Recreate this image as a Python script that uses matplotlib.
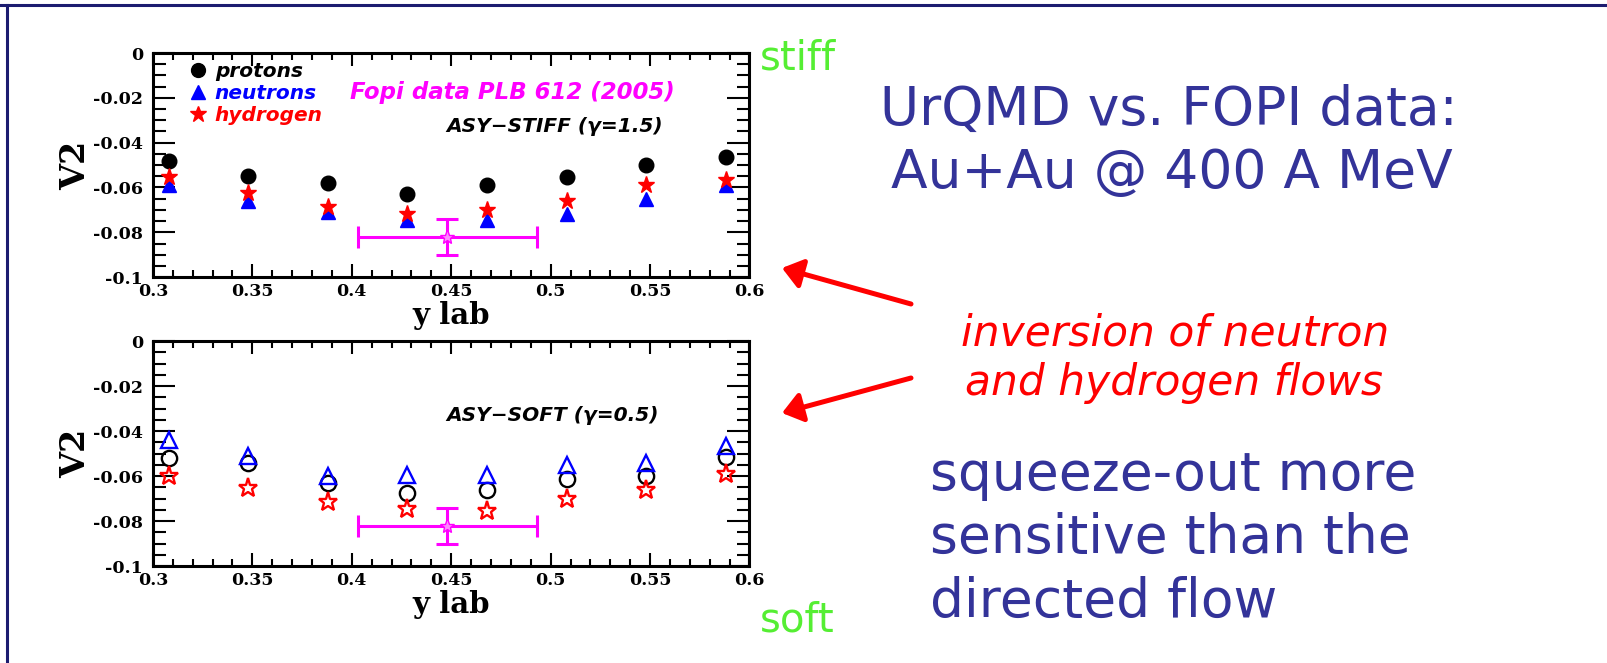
"""
UrQMD vs FOPI elliptic flow (V2) slide: stiff and soft asymmetry terms.
"""
import matplotlib
matplotlib.use('Agg')
import matplotlib.pyplot as plt
from matplotlib.lines import Line2D
from matplotlib.patches import FancyArrowPatch

plt.rcParams['axes.unicode_minus'] = False

# rapidity bins
y_lab = [0.308, 0.348, 0.388, 0.428, 0.468, 0.508, 0.548, 0.588]

# ASY-STIFF (gamma=1.5)
stiff_protons = [-0.048, -0.055, -0.058, -0.063, -0.059, -0.0555, -0.050, -0.0465]
stiff_neutrons = [-0.059, -0.066, -0.071, -0.0745, -0.0745, -0.072, -0.065, -0.059]
stiff_hydrogen = [-0.0555, -0.0625, -0.0685, -0.072, -0.070, -0.066, -0.059, -0.0565]

# ASY-SOFT (gamma=0.5)
soft_protons = [-0.052, -0.054, -0.063, -0.0675, -0.066, -0.0615, -0.060, -0.0515]
soft_neutrons = [-0.044, -0.051, -0.060, -0.0595, -0.0595, -0.055, -0.054, -0.0465]
soft_hydrogen = [-0.060, -0.0655, -0.0715, -0.0745, -0.0755, -0.070, -0.066, -0.059]

# FOPI data point (PLB 612, 2005)
fopi_y = [0.448]
fopi_v2 = [-0.082]
fopi_xerr = [0.045]
fopi_yerr = [0.008]

x_ticks = [0.3, 0.35, 0.4, 0.45, 0.5, 0.55, 0.6]
x_ticklabels = ['0.3', '0.35', '0.4', '0.45', '0.5', '0.55', '0.6']
y_ticks = [0, -0.02, -0.04, -0.06, -0.08, -0.1]
y_ticklabels = ['0', '-0.02', '-0.04', '-0.06', '-0.08', '-0.1']

W, H = 1608, 663
NAVY = '#333399'
GREEN = '#55ee33'
SERIF = 'DejaVu Serif'
SANS = 'DejaVu Sans'


def px(x, y):
    """pixel position (from top-left) -> figure fraction"""
    return x / W, 1 - y / H


def style_axes(ax):
    ax.set_xlim(0.3, 0.6)
    ax.set_ylim(-0.1, 0)
    ax.set_xticks(x_ticks)
    ax.set_xticklabels(x_ticklabels)
    ax.set_yticks(y_ticks)
    ax.set_yticklabels(y_ticklabels)
    ax.set_xticks([0.3 + 0.01 * i for i in range(31)], minor=True)
    ax.set_yticks([-0.005 * i for i in range(21)], minor=True)
    ax.tick_params(which='both', direction='in', top=True, right=True, width=1.5)
    ax.tick_params(axis='y', which='major', length=16, pad=7)
    ax.tick_params(axis='y', which='minor', length=9)
    ax.tick_params(axis='x', which='major', length=9.5, pad=4)
    ax.tick_params(axis='x', which='minor', length=5)
    for lab in ax.get_xticklabels() + ax.get_yticklabels():
        lab.set_fontfamily(SERIF)
        lab.set_fontweight('bold')
        lab.set_fontsize(12.5)
    for sp in ax.spines.values():
        sp.set_linewidth(2.2)
    ax.set_xlabel('y lab', fontsize=21, family=SERIF, fontweight='bold', labelpad=1)
    ax.set_ylabel('V2', fontsize=24, family=SERIF, fontweight='bold', labelpad=1)


def plot_fopi(ax):
    ax.errorbar(fopi_y, fopi_v2, xerr=fopi_xerr, yerr=fopi_yerr, fmt='*', color='#ff00ff',
                mfc='#ff88ff', mec='#ff00ff', ms=11, elinewidth=2.2, capsize=8, capthick=2.2,
                zorder=2)


fig = plt.figure(figsize=(W / 100, H / 100), dpi=100)
fig.patch.set_facecolor('white')

ax1 = fig.add_axes([0.0951, 0.582, 0.371, 0.338])
ax2 = fig.add_axes([0.0951, 0.1463, 0.371, 0.339])

# stiff panel
ax1.plot(y_lab, stiff_protons, 'o', color='black', ms=10.5, label='protons', zorder=3)
ax1.plot(y_lab, stiff_neutrons, '^', color='blue', ms=10.5, label='neutrons', zorder=3)
ax1.plot(y_lab, stiff_hydrogen, '*', color='red', ms=12.5, label='hydrogen', zorder=4)
plot_fopi(ax1)
style_axes(ax1)
leg = ax1.legend(loc='upper left', bbox_to_anchor=(0.058, 0.96), frameon=False,
                 borderpad=0, borderaxespad=0, labelspacing=0.15, handlelength=1.0,
                 handletextpad=0.35, markerscale=0.95,
                 prop={'family': SANS, 'weight': 'bold', 'style': 'oblique', 'size': 14.5})
for txt, c in zip(leg.get_texts(), ['black', 'blue', 'red']):
    txt.set_color(c)
ax1.text(0.330, 0.826, 'Fopi data PLB 612 (2005)', transform=ax1.transAxes, color='#ff00ff',
         fontsize=16.5, family=SANS, fontweight='bold', style='oblique', va='center')
ax1.text(0.492, 0.670, 'ASY\u2212STIFF (\u03b3=1.5)', transform=ax1.transAxes, color='black',
         fontsize=14.5, family=SANS, fontweight='bold', style='oblique', va='center')

# soft panel
ax2.plot(y_lab, soft_protons, 'o', mfc='none', mec='black', mew=1.7, ms=11, zorder=3)
ax2.plot(y_lab, soft_neutrons, '^', mfc='none', mec='blue', mew=1.7, ms=11, zorder=3)
ax2.plot(y_lab, soft_hydrogen, '*', mfc='none', mec='red', mew=1.7, ms=14, zorder=4)
plot_fopi(ax2)
style_axes(ax2)
ax2.text(0.492, 0.671, 'ASY\u2212SOFT (\u03b3=0.5)', transform=ax2.transAxes, color='black',
         fontsize=14.5, family=SANS, fontweight='bold', style='oblique', va='center')

# slide text
fig.text(*px(760, 70), 'stiff', color=GREEN, fontsize=29, family=SANS, va='baseline')
fig.text(*px(760, 632), 'soft', color=GREEN, fontsize=29, family=SANS, va='baseline')
fig.text(*px(1169, 125), 'UrQMD vs. FOPI data:', color=NAVY, fontsize=38.5, family=SANS,
         ha='center', va='baseline')
fig.text(*px(1172, 188), 'Au+Au @ 400 A MeV', color=NAVY, fontsize=38.5, family=SANS,
         ha='center', va='baseline')
fig.text(*px(1175, 345), 'inversion of neutron', color='red', fontsize=30.5, family=SANS,
         style='oblique', ha='center', va='baseline')
fig.text(*px(1174, 395), 'and hydrogen flows', color='red', fontsize=30.5, family=SANS,
         style='oblique', ha='center', va='baseline')
for line, base in zip(['squeeze-out more', 'sensitive than the', 'directed flow'], [490, 553, 617]):
    fig.text(*px(930, base), line, color=NAVY, fontsize=38.5, family=SANS, va='baseline')

# red arrows
for tail, tip in [((911, 304), (782, 268)), ((911, 378), (782, 413))]:
    arr = FancyArrowPatch(px(*tail), px(*tip), transform=fig.transFigure,
                          arrowstyle='-|>,head_length=0.6,head_width=0.45', mutation_scale=20,
                          color='red', lw=3.6, shrinkA=0, shrinkB=0)
    fig.add_artist(arr)

# slide frame
fig.add_artist(Line2D([0, 1], [1 - 5 / H, 1 - 5 / H], transform=fig.transFigure,
                      color='#1c1c70', lw=2.2))
fig.add_artist(Line2D([7 / W, 7 / W], [0, 1 - 5 / H], transform=fig.transFigure,
                      color='#1c1c70', lw=2.2))

fig.savefig('out.png', dpi=100, facecolor='white')
